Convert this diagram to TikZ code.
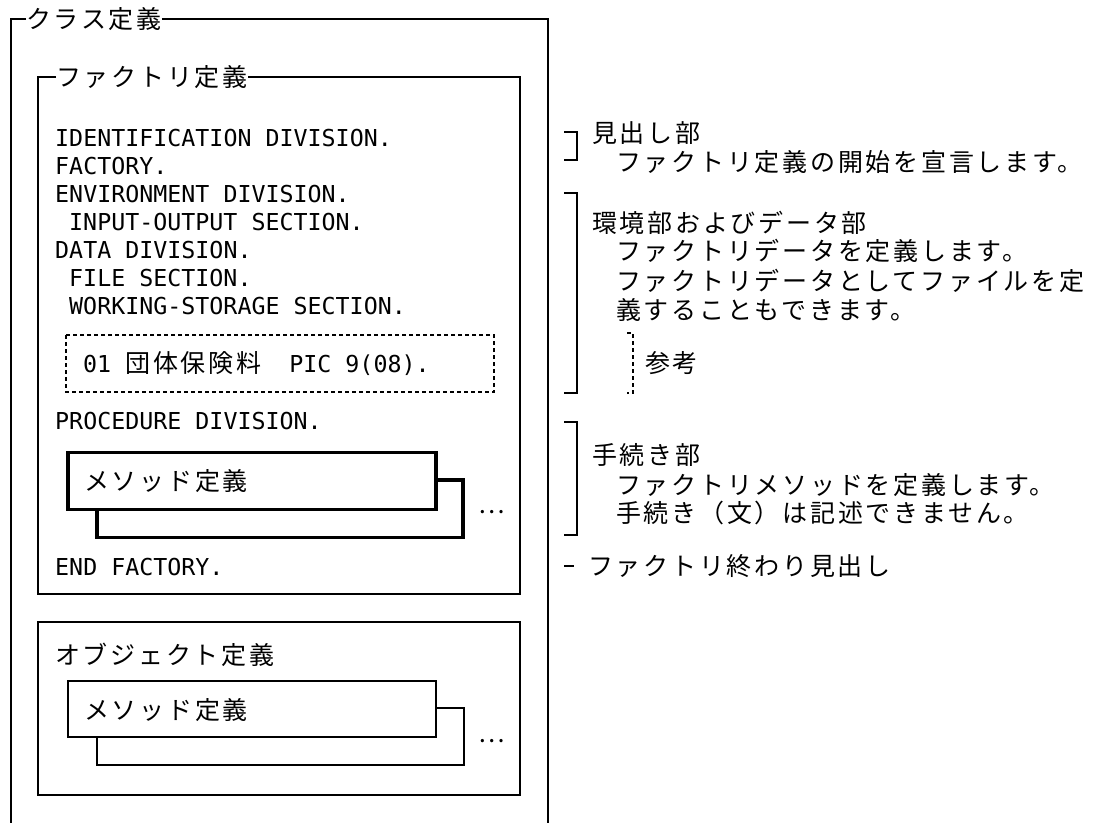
\documentclass[tikz,border=0pt]{standalone}
\usepackage{fontspec}
\setmonofont{DejaVu Sans Mono}
\newfontfamily\jafamily[LetterSpace=11]{Noto Sans CJK JP}
\newcommand\cobolfont{\ttfamily\fontsize{23.3}{28}\selectfont}
\newcommand\jafont{\jafamily\fontsize{25}{29}\selectfont}
\definecolor{ink}{HTML}{000000}
\definecolor{paper}{HTML}{FFFFFF}
\tikzset{
  frame/.style={draw=ink,line width=2pt},
  bracket/.style={draw=ink,line width=2pt},
  refmark/.style={draw=ink,line width=1.3pt,dash pattern=on 4pt off 3pt},
  sample/.style={draw=ink,line width=1.3pt,dash pattern=on 4pt off 3pt},
  methodfactory/.style={draw=ink,fill=paper,line width=3.5pt},
  methodobject/.style={draw=ink,fill=paper,line width=1.5pt},
  code/.style={anchor=west,inner sep=0pt,font=\cobolfont,text=ink,
    text height=17pt,text depth=0pt},
  jtext/.style={anchor=west,inner sep=0pt,font=\jafont,text=ink,
    text height=18pt,text depth=0pt},
  more/.style={jtext,anchor=center},
}

\begin{document}
\begin{tikzpicture}[x=1pt,y=-1pt]
  \path[use as bounding box,fill=paper] (0,0) rectangle (1105,823);

  % Class definition; its frame runs on past the lower edge.
  \node[jtext] (classtitle) at (26,19) {クラス定義};
  \draw[frame] (classtitle.west) -- (11,19) -- (11,823);
  \draw[frame] (classtitle.east) -- (548,19) -- (548,823);

  % Factory definition
  \node[jtext] (factorytitle) at (56,77) {ファクトリ定義};
  \draw[frame] (factorytitle.west) -- (38,77) -- (38,594) -- (520,594)
    -- (520,77) -- (factorytitle.east);

  \foreach \y/\x/\txt [count=\i] in {138/55/IDENTIFICATION DIVISION.,
      166/55/FACTORY.,194/55/ENVIRONMENT DIVISION.,
      222/69/INPUT-OUTPUT SECTION.,250/55/DATA DIVISION.,
      278/69/FILE SECTION.,306/69/WORKING-STORAGE SECTION.,
      421/55/PROCEDURE DIVISION.,567/55/END FACTORY.} {
    \node[code] (cobol\i) at (\x,\y) {\txt};
  }

  \draw[sample] (66,335) rectangle (494,392);
  \node[code] (sampleitem) at (83,364)
    {01\ {\jafont 団体保険料}\ \ PIC 9(08).};

  \draw[methodfactory] (97,480) rectangle (463,537.5);
  \draw[methodfactory] (68,452.5) rectangle (436,509.5);
  \node[jtext] (factorymethod) at (84,481) {メソッド定義};
  \node[more] (factorymore) at (492,504) {…};

  % Object definition
  \draw[frame] (38,622) rectangle (520,795);
  \node[jtext] (objecttitle) at (55,655) {オブジェクト定義};
  \draw[methodobject] (97,708) rectangle (464,765);
  \draw[methodobject] (68,681) rectangle (436,737);
  \node[jtext] (objectmethod) at (84,710) {メソッド定義};
  \node[more] (objectmore) at (492,733) {…};

  % Notes on the right, one bracket for each part
  \draw[bracket] (564,132) -- (577,132) -- (577,160) -- (564,160);
  \node[jtext] (headpart) at (592,133) {見出し部};
  \node[jtext] (headnote) at (616,162) {ファクトリ定義の開始を宣言します。};

  \draw[bracket] (564,193) -- (577,193) -- (577,393) -- (564,393);
  \node[jtext] (datapart) at (592,223) {環境部およびデータ部};
  \node[jtext] (datanote) at (616,251) {ファクトリデータを定義します。};
  \node[jtext] (filenote) at (616,281) {ファクトリデータとしてファイルを定};
  \node[jtext] (filenotecont) at (616,310) {義することもできます。};
  \draw[refmark] (627,333) -- (633,333) -- (633,393) -- (627,393);
  \node[jtext] (reference) at (645,363) {参考};

  \draw[bracket] (564,422) -- (577,422) -- (577,535) -- (564,535);
  \node[jtext] (procpart) at (592,455) {手続き部};
  \node[jtext] (procnote) at (616,485) {ファクトリメソッドを定義します。};
  \node[jtext] (stmtnote) at (616,513) {手続き（文）は記述できません。};

  \draw[bracket] (564,566) -- (574,566);
  \node[jtext] (endpart) at (588,566) {ファクトリ終わり見出し};
\end{tikzpicture}
\end{document}
